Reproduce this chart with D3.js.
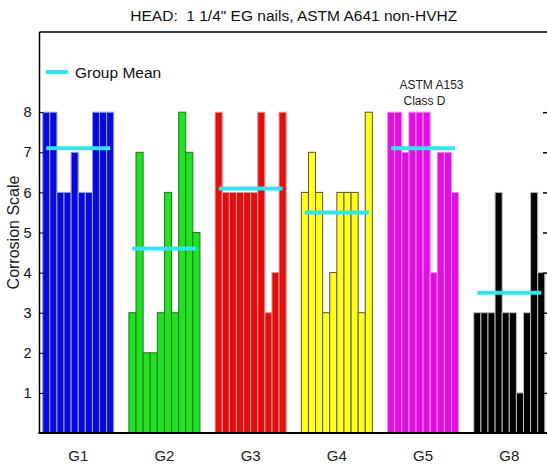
<!DOCTYPE html>
<html><head><meta charset="utf-8">
<script src="https://cdn.jsdelivr.net/npm/d3@7"></script>
<style>html,body{margin:0;padding:0;background:#fff;}svg{display:block;font-family:"Liberation Sans",Arial,sans-serif;}</style>
</head><body><div id="chart"></div>
<script>
const groups = ["G1","G2","G3","G4","G5","G8"];
const g1 = [8,8,6,6,7,6,6,8,8,8];
const g2 = [3,7,2,2,3,6,3,8,7,5];
const g3 = [8,6,6,6,6,6,8,3,4,8];
const g4 = [6,7,6,3,4,6,6,6,3,8];
const g5 = [8,8,7,8,8,8,4,7,7,6];
const g8 = [3,3,3,6,3,3,1,3,6,4];
const yTicks = [1,2,3,4,5,6,7,8];
const title = "HEAD:  1 1/4\" EG nails, ASTM A641 non-HVHZ";
const yLabel = "Corrosion Scale";
const legendLabel = "Group Mean";
const note1 = "ASTM A153";
const note2 = "Class D";

const seriesValues = [g1,g2,g3,g4,g5,g8];
const fills = ["#0a0ad8","#22e022","#e01010","#ffff22","#e010e0","#000000"];
const edges = ["#9a9af0","#1f7a1f","#f09090","#5a5a10","#f08af0","#bbbbbb"];

const W = 547, H = 469;
const L = 39.5, R = 548, T = 32, B = 433;

const svg = d3.select("#chart").append("svg").attr("width", W).attr("height", H);

const x = d3.scaleBand().domain(groups).range([L, R]).paddingInner(0.176).paddingOuter(0.037);
const xi = d3.scaleBand().domain(d3.range(10)).range([0, x.bandwidth()]);
const y = d3.scaleLinear().domain([0, 10]).range([B, T]);

// bars
groups.forEach((g, gi) => {
  const vals = seriesValues[gi];
  svg.append("g").selectAll("rect").data(vals).join("rect")
    .attr("x", (d, j) => x(g) + xi(j))
    .attr("y", d => y(d))
    .attr("width", xi.bandwidth())
    .attr("height", d => y(0) - y(d))
    .attr("fill", fills[gi])
    .attr("stroke", edges[gi])
    .attr("stroke-width", 1);
});

// means
groups.forEach((g, gi) => {
  const m = d3.mean(seriesValues[gi]);
  svg.append("line")
    .attr("x1", x(g) + xi(0) + xi.bandwidth() / 2)
    .attr("x2", x(g) + xi(9) + xi.bandwidth() / 2)
    .attr("y1", y(m)).attr("y2", y(m))
    .attr("stroke", "#33e3ee").attr("stroke-width", 4);
});

// axes
const yAxisL = d3.axisLeft(y).tickValues(yTicks).tickSize(-4).tickPadding(8).tickFormat(d3.format("d"));
const gl = svg.append("g").attr("transform", `translate(${L},0)`).call(yAxisL);
gl.select(".domain").remove();
gl.selectAll("text").attr("font-size", 14.5).attr("fill", "#111").attr("font-family", "Liberation Sans, Arial, sans-serif");
gl.selectAll("line").attr("stroke", "#000");

const yAxisR = d3.axisRight(y).tickValues(yTicks).tickSize(-5).tickFormat("");
const gr = svg.append("g").attr("transform", `translate(${R},0)`).call(yAxisR);
gr.select(".domain").remove();
gr.selectAll("line").attr("stroke", "#000").attr("stroke-width", 1.5);

const xAxis = d3.axisBottom(x).tickSize(0).tickPadding(17);
const gx = svg.append("g").attr("transform", `translate(0,${B})`).call(xAxis);
gx.select(".domain").remove();
gx.selectAll("text").attr("font-size", 15).attr("fill", "#222").attr("font-family", "Liberation Sans, Arial, sans-serif");

// frame
svg.append("line").attr("x1", L).attr("x2", L).attr("y1", T).attr("y2", B).attr("stroke", "#000").attr("stroke-width", 1.5);
svg.append("line").attr("x1", L).attr("x2", R).attr("y1", T).attr("y2", T).attr("stroke", "#000").attr("stroke-width", 1.5);
svg.append("line").attr("x1", R).attr("x2", R).attr("y1", T).attr("y2", B).attr("stroke", "#000").attr("stroke-width", 1.5);
svg.append("line").attr("x1", L - 1).attr("x2", R).attr("y1", B).attr("y2", B).attr("stroke", "#000").attr("stroke-width", 2);

// title
svg.append("text").attr("x", (L + R) / 2).attr("y", 20.5).attr("text-anchor", "middle")
  .style("white-space", "pre").attr("xml:space", "preserve")
  .attr("font-size", 15.5).attr("fill", "#111").text(title);

// y label
svg.append("text").attr("transform", `translate(19,${(T + B) / 2}) rotate(-90)`).attr("text-anchor", "middle")
  .attr("font-size", 16).attr("fill", "#222").text(yLabel);

// legend
svg.append("line").attr("x1", 46).attr("x2", 68).attr("y1", 72).attr("y2", 72).attr("stroke", "#33e3ee").attr("stroke-width", 4);
svg.append("text").attr("x", 75).attr("y", 78).attr("font-size", 15.5).attr("fill", "#111").text(legendLabel);

// annotation
svg.append("text").attr("x", 399.5).attr("y", 89).attr("font-size", 12).attr("fill", "#222").text(note1);
svg.append("text").attr("x", 403.5).attr("y", 105).attr("font-size", 12).attr("fill", "#222").text(note2);
</script></body></html>
